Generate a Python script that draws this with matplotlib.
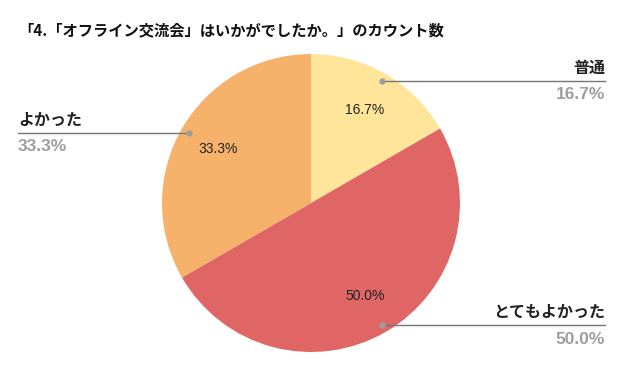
import numpy as np
import matplotlib.pyplot as plt

plt.rcParams['font.family'] = ['Noto Sans CJK JP', 'DejaVu Sans']

title = "「4.「オフライン交流会」はいかがでしたか。」のカウント数"
labels = ["普通", "とてもよかった", "よかった"]
values = [1, 3, 2]
colors = ["#FFE599", "#E06666", "#F6B26B"]

W, H = 623, 371
fig = plt.figure(figsize=(W / 100, H / 100), dpi=100)
ax = fig.add_axes([0, 0, 1, 1])

cx, cy, R = 311, H - 203, 149
wedges, _ = ax.pie(values, colors=colors, startangle=90, counterclock=False,
                   center=(cx, cy), radius=R, frame=True,
                   wedgeprops=dict(linewidth=0))
ax.set_xlim(0, W)
ax.set_ylim(0, H)
ax.set_aspect("equal")
ax.axis("off")

total = sum(values)
for w, lab, v in zip(wedges, labels, values):
    ang = np.deg2rad((w.theta1 + w.theta2) / 2)
    pct = f"{100 * v / total:.1f}%"
    # label inside the slice
    ax.text(cx + 0.72 * R * np.cos(ang), cy + 0.72 * R * np.sin(ang), pct,
            ha="center", va="center", fontsize=10, color="#222222",
            family="Liberation Sans")
    # leader line out to the side
    px, py = cx + 141 * np.cos(ang), cy + 141 * np.sin(ang)
    ax.plot(px, py, "o", ms=3.5, color="#9E9E9E", zorder=5)
    if np.cos(ang) >= 0:
        x_end, ha = 605, "right"
    else:
        x_end, ha = 18, "left"
    ax.plot([px, x_end], [py, py], color="#757575", lw=1, zorder=4)
    ax.text(x_end, py + 13, lab, ha=ha, va="center", fontsize=11.5,
            fontweight="bold", color="#222222")
    ax.text(x_end, py - 14, pct, ha=ha, va="center", fontsize=12.5,
            fontweight="bold", color="#9E9E9E", family="Liberation Sans")

fig.text(18 / W, 1 - 30 / H, title, ha="left", va="center", fontsize=11,
         fontweight="bold", color="#111111")

fig.savefig("out.png", dpi=100)
